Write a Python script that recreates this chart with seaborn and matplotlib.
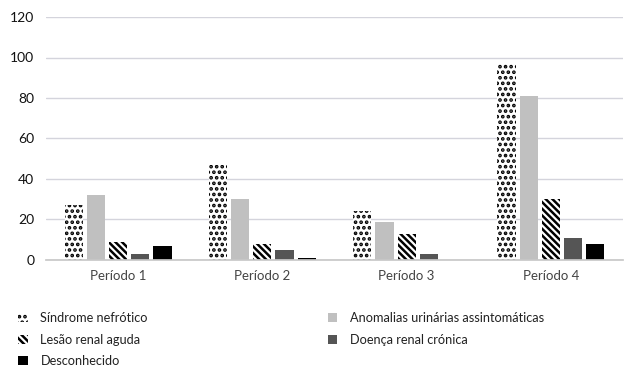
import matplotlib
matplotlib.use("Agg")
import matplotlib.pyplot as plt
from matplotlib.patches import Patch
import seaborn as sns
import pandas as pd

periodos = ["Período 1", "Período 2", "Período 3", "Período 4"]
series = ["Síndrome nefrótico", "Anomalias urinárias assintomáticas",
          "Lesão renal aguda", "Doença renal crónica", "Desconhecido"]
sindrome_nefrotico = [27, 47, 24, 97]
anomalias_urinarias = [32, 30, 19, 81]
lesao_renal_aguda = [9, 8, 13, 30]
doenca_renal_cronica = [3, 5, 3, 11]
desconhecido = [7, 1, 0, 8]
y_ticks = [0, 20, 40, 60, 80, 100, 120]

valores = [sindrome_nefrotico, anomalias_urinarias, lesao_renal_aguda,
           doenca_renal_cronica, desconhecido]
df = pd.DataFrame([
    {"periodo": p, "serie": s, "valor": v}
    for s, vals in zip(series, valores)
    for p, v in zip(periodos, vals)
])

sns.set_theme(style="white")
plt.rcParams["font.family"] = ["Lato", "DejaVu Sans"]
plt.rcParams["hatch.linewidth"] = 1.8

fills = ["white", "#c0c0c0", "white", "#555555", "#000000"]
hatches = ["...", None, "\\\\\\\\\\", None, None]

fig = plt.figure(figsize=(6.25, 3.68), dpi=100)
ax = fig.add_axes([0.0736, 0.2935, 0.9232, 0.6603])

sns.barplot(data=df, x="periodo", y="valor", hue="serie", hue_order=series,
            order=periodos, palette=fills, width=0.77, gap=0.18,
            legend=False, ax=ax)

for cont, fc, h in zip(ax.containers, fills, hatches):
    for bar in cont:
        bar.set_facecolor(fc)
        bar.set_edgecolor("black")
        bar.set_linewidth(0)
        if h:
            bar.set_hatch(h)

ax.set_ylim(0, 120)
ax.set_yticks(y_ticks)
ax.set_xlim(-0.5, 3.5)
ax.yaxis.grid(True, color="#d4d4dc", linewidth=1)
ax.set_axisbelow(True)
for side in ["left", "right", "top"]:
    ax.spines[side].set_visible(False)
ax.spines["bottom"].set_color("#c8c8c8")
ax.tick_params(axis="y", length=0, labelsize=10, labelcolor="#111111", pad=8.5)
ax.tick_params(axis="x", length=0, labelsize=9.5, labelcolor="#444444", pad=7)
ax.set_xlabel("")
ax.set_ylabel("")

handles = [Patch(facecolor=fc, edgecolor="black", linewidth=0, hatch=h)
           for fc, h in zip(fills, hatches)]
leg_kw = dict(frameon=False, fontsize=9.2, handlelength=0.75, handleheight=0.75,
              handletextpad=1.0, labelspacing=0.75, labelcolor="#222222",
              borderaxespad=0, borderpad=0)
fig.legend([handles[0], handles[2], handles[4]],
           [series[0], series[2], series[4]],
           loc="upper left", bbox_to_anchor=(0.029, 0.152),
           **leg_kw)
fig.legend([handles[1], handles[3]], [series[1], series[3]],
           loc="upper left", bbox_to_anchor=(0.524, 0.152), **leg_kw)

fig.savefig("out.png", dpi=100)
